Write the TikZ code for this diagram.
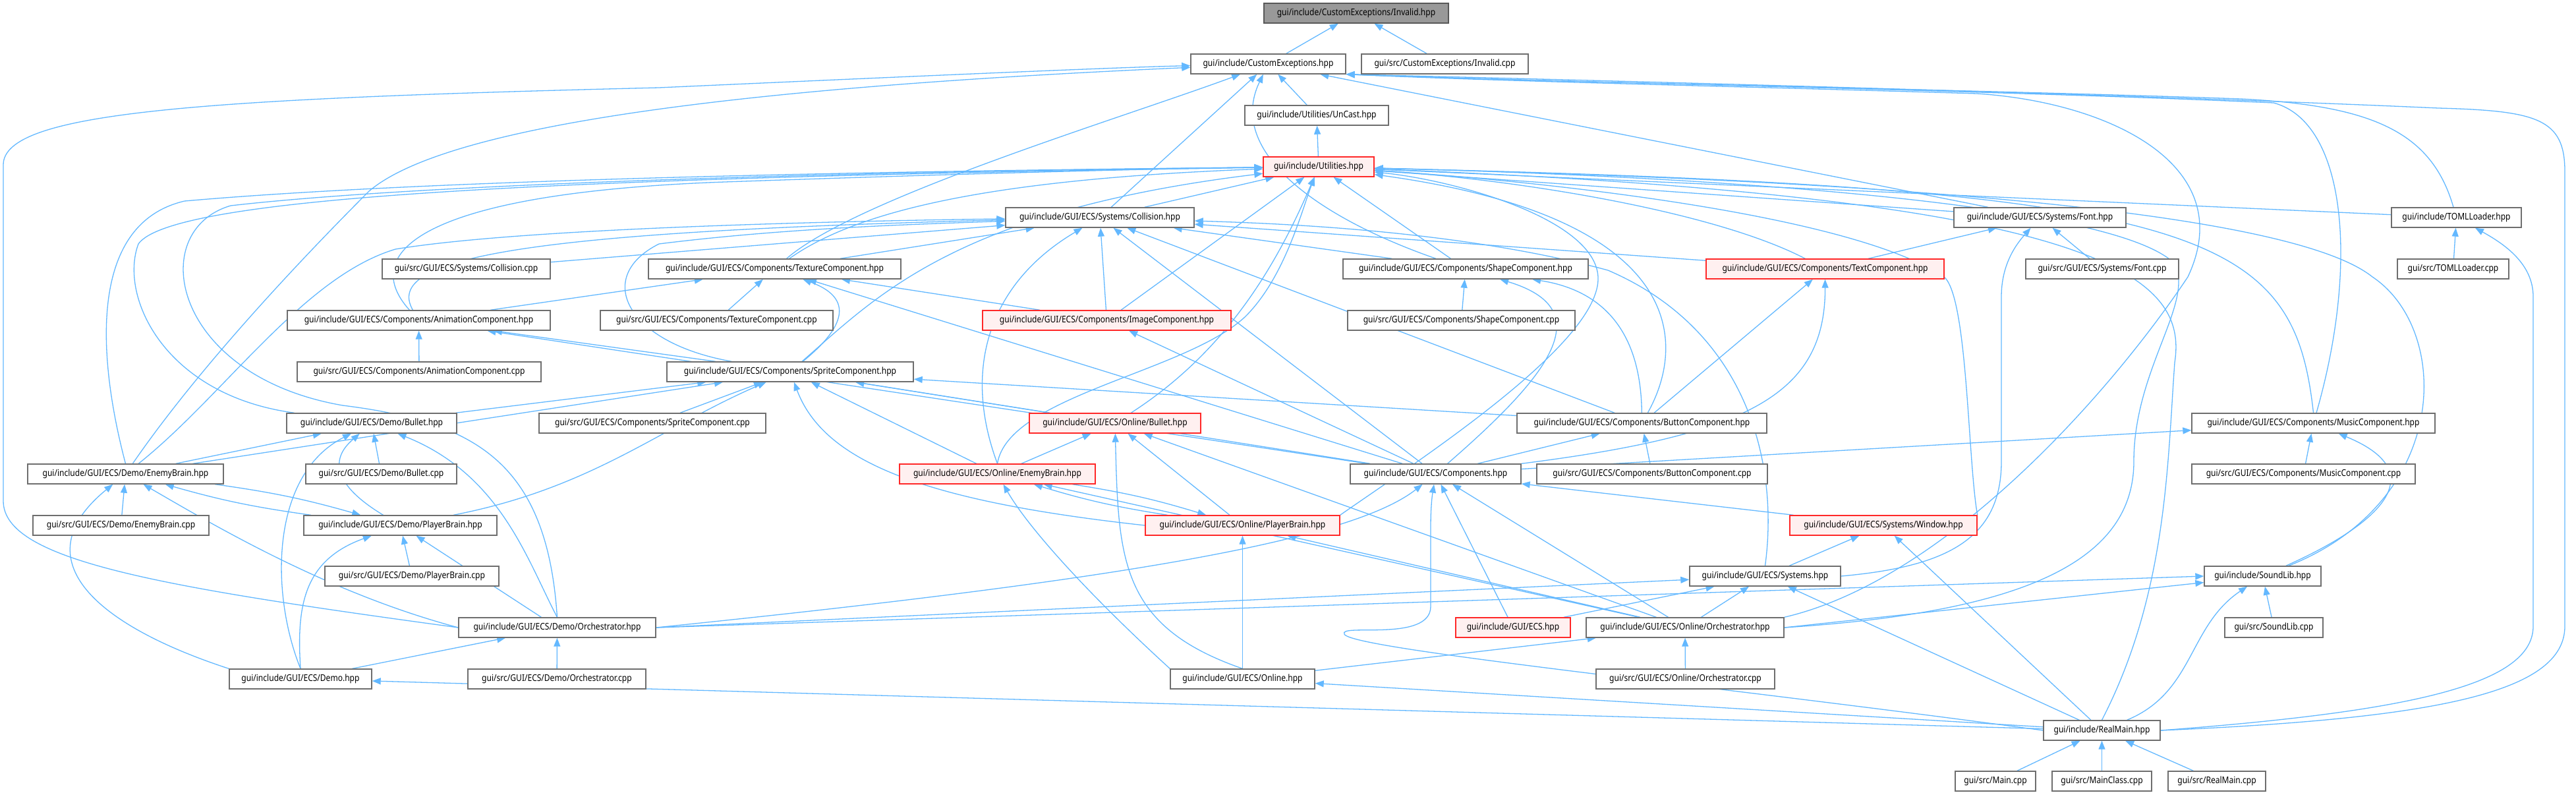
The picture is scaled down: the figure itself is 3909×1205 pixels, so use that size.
\documentclass[tikz,border=0pt]{standalone}
\usepackage{fontspec}
\setmainfont{Noto Sans}[FakeStretch=0.86]
\usetikzlibrary{arrows.meta}
\definecolor{edgec}{RGB}{99,184,255}
\definecolor{boxc}{RGB}{110,110,110}
\definecolor{redc}{RGB}{255,40,40}
\definecolor{pinkf}{RGB}{255,240,240}
\definecolor{rootf}{RGB}{153,153,153}
\pgfdeclarelayer{bg}
\pgfsetlayers{bg,main}
\newcommand\nd[6][wbox]{\node[nbox,#1,minimum width={(#4-#3)*1pt}] (#2) at ({(#3+#4)/2},#5) {#6};}
\begin{document}
\begin{tikzpicture}[x=1pt,y=-1pt,
 nbox/.style={rectangle,draw=boxc,line width=1.4pt,fill=white,minimum height=30pt,inner sep=0pt,font=\fontsize{14}{16}\selectfont,text=black},
 wbox/.style={},
 rbox/.style={draw=redc,fill=pinkf},
 gbox/.style={fill=rootf,draw=boxc!80!black},
 dep/.style={draw=edgec,line width=1.3pt,-{Triangle[length=13pt,width=10pt]}}]
\useasboundingbox (0,0) rectangle (3909,1205);
% ---------- nodes ----------
\nd[gbox]{inv}{1918}{2198}{20}{gui/include/CustomExceptions/Invalid.hpp}
\nd{cex}{1807}{2042}{97}{gui/include/CustomExceptions.hpp}
\nd{invcpp}{2066}{2319}{97}{gui/src/CustomExceptions/Invalid.cpp}
\nd{uncast}{1889}{2107}{175}{gui/include/Utilities/UnCast.hpp}
\nd[rbox]{util}{1917}{2085}{253}{gui/include/Utilities.hpp}
\nd{coll}{1526}{1812}{330}{gui/include/GUI/ECS/Systems/Collision.hpp}
\nd{font}{2965}{3226}{330}{gui/include/GUI/ECS/Systems/Font.hpp}
\nd{toml}{3629}{3826}{330}{gui/include/TOMLLoader.hpp}
\nd{texh}{984}{1367}{408}{gui/include/GUI/ECS/Components/TextureComponent.hpp}
\nd{collcpp}{580}{835}{408}{gui/src/GUI/ECS/Systems/Collision.cpp}
\nd{shape}{2038}{2410}{408}{gui/include/GUI/ECS/Components/ShapeComponent.hpp}
\nd[rbox]{text}{2589}{2950}{408}{gui/include/GUI/ECS/Components/TextComponent.hpp}
\nd{fontcpp}{3074}{3306}{408}{gui/src/GUI/ECS/Systems/Font.cpp}
\nd{tomlcpp}{3638}{3807}{408}{gui/src/TOMLLoader.cpp}
\nd{anim}{436}{835}{486}{gui/include/GUI/ECS/Components/AnimationComponent.hpp}
\nd{texcpp}{911}{1264}{486}{gui/src/GUI/ECS/Components/TextureComponent.cpp}
\nd[rbox]{image}{1491}{1868}{486}{gui/include/GUI/ECS/Components/ImageComponent.hpp}
\nd{shapecpp}{2045}{2390}{486}{gui/src/GUI/ECS/Components/ShapeComponent.cpp}
\nd{animcpp}{451}{821}{564}{gui/src/GUI/ECS/Components/AnimationComponent.cpp}
\nd{sprite}{1012}{1386}{564}{gui/include/GUI/ECS/Components/SpriteComponent.hpp}
\nd{dbullet}{435}{693}{642}{gui/include/GUI/ECS/Demo/Bullet.hpp}
\nd{spritecpp}{818}{1162}{642}{gui/src/GUI/ECS/Components/SpriteComponent.cpp}
\nd[rbox]{obullet}{1562}{1822}{642}{gui/include/GUI/ECS/Online/Bullet.hpp}
\nd{button}{2302}{2681}{642}{gui/include/GUI/ECS/Components/ButtonComponent.hpp}
\nd{music}{3326}{3695}{642}{gui/include/GUI/ECS/Components/MusicComponent.hpp}
\nd{denemy}{42}{339}{719}{gui/include/GUI/ECS/Demo/EnemyBrain.hpp}
\nd{dbulletcpp}{464}{693}{719}{gui/src/GUI/ECS/Demo/Bullet.cpp}
\nd[rbox]{oenemy}{1365}{1662}{719}{gui/include/GUI/ECS/Online/EnemyBrain.hpp}
\nd{comps}{2049}{2308}{719}{gui/include/GUI/ECS/Components.hpp}
\nd{buttoncpp}{2332}{2682}{719}{gui/src/GUI/ECS/Components/ButtonComponent.cpp}
\nd{musiccpp}{3326}{3665}{719}{gui/src/GUI/ECS/Components/MusicComponent.cpp}
\nd{denemycpp}{50}{317}{797}{gui/src/GUI/ECS/Demo/EnemyBrain.cpp}
\nd{dplayer}{461}{754}{797}{gui/include/GUI/ECS/Demo/PlayerBrain.hpp}
\nd[rbox]{oplayer}{1738}{2033}{797}{gui/include/GUI/ECS/Online/PlayerBrain.hpp}
\nd[rbox]{window}{2716}{3000}{797}{gui/include/GUI/ECS/Systems/Window.hpp}
\nd{dplayercpp}{493}{757}{874}{gui/src/GUI/ECS/Demo/PlayerBrain.cpp}
\nd{systems}{2564}{2793}{874}{gui/include/GUI/ECS/Systems.hpp}
\nd{sound}{3345}{3522}{874}{gui/include/SoundLib.hpp}
\nd{dorch}{696}{995}{952}{gui/include/GUI/ECS/Demo/Orchestrator.hpp}
\nd[rbox]{ecs}{2209}{2383}{952}{gui/include/GUI/ECS.hpp}
\nd{oorch}{2407}{2707}{952}{gui/include/GUI/ECS/Online/Orchestrator.hpp}
\nd{soundcpp}{3376}{3525}{952}{gui/src/SoundLib.cpp}
\nd{demo}{348}{564}{1030}{gui/include/GUI/ECS/Demo.hpp}
\nd{dorchcpp}{710}{980}{1030}{gui/src/GUI/ECS/Demo/Orchestrator.cpp}
\nd{online}{1776}{1995}{1030}{gui/include/GUI/ECS/Online.hpp}
\nd{oorchcpp}{2422}{2693}{1030}{gui/src/GUI/ECS/Online/Orchestrator.cpp}
\nd{realmain}{3101}{3278}{1108}{gui/include/RealMain.hpp}
\nd{maincpp}{2967}{3089}{1185}{gui/src/Main.cpp}
\nd{mainclass}{3114}{3265}{1185}{gui/src/MainClass.cpp}
\nd{realmaincpp}{3290}{3438}{1185}{gui/src/RealMain.cpp}
% ---------- edges ----------
\begin{pgfonlayer}{bg}
\draw[dep] (cex) -- (inv);
\draw[dep] (invcpp) -- (inv);
\draw[dep] (uncast) -- (cex);
\draw[dep] (util) -- (uncast);
% Collision
\draw[dep] (coll) -- (cex);
\draw[dep] (coll) -- (util);
\draw[dep] (collcpp) -- (coll);
% TextureComponent
\draw[dep] (texh) .. controls (1300,300) and (1700,180) .. (cex);
\draw[dep] (texh) .. controls (1300,320) and (1500,272) .. (util);
\draw[dep] (texh) -- (coll);
\draw[dep] (texcpp) -- (texh);
% ShapeComponent
\draw[dep] (shape) -- (util);
\draw[dep] (shape) -- (coll);
\draw[dep] (shape) .. controls (2000,330) and (1860,230) .. (cex);
\draw[dep] (shapecpp) -- (shape);
% TextComponent
\draw[dep] (text) .. controls (2600,320) and (2300,272) .. (util);
\draw[dep] (text) -- (coll);
\draw[dep] (text) -- (font);
% Font
\draw[dep] (font) -- (util);
\draw[dep] (font) -- (cex);
\draw[dep] (fontcpp) -- (font);
% TOMLLoader
\draw[dep] (toml) -- (util);
\draw[dep] (toml) .. controls (3690,200) and (3600,160) .. (3400,150) .. controls (3000,136) and (2400,126) .. (cex.south east);
\draw[dep] (tomlcpp) -- (toml);
% AnimationComponent
\draw[dep] (anim) -- (texh);
\draw[dep] (anim) .. controls (540,380) and (650,292) .. (1100,276) .. controls (1500,262) and (1800,255) .. (util);
\draw[dep] (anim) .. controls (580,390) and (800,352) .. (coll);
\draw[dep] (animcpp) -- (anim);
% ImageComponent
\draw[dep] (image) -- (texh);
\draw[dep] (image) -- (util);
\draw[dep] (image) -- (coll);
% SpriteComponent
\draw[dep] (sprite) .. controls (1290,490) and (1290,450) .. (texh);
\draw[dep] (sprite) -- (anim);
\draw[dep] (sprite) .. controls (1330,450) and (1450,320) .. (util);
\draw[dep] (sprite) .. controls (950,520) and (900,420) .. (1000,370) .. controls (1200,345) and (1400,340) .. (coll);
\draw[dep] (spritecpp) -- (sprite);
% Demo Bullet
\draw[dep] (dbullet) .. controls (250,600) and (180,450) .. (210,370) .. controls (260,300) and (800,270) .. (util);
\draw[dep] (dbullet) -- (sprite);
\draw[dep] (dbulletcpp) -- (dbullet);
% Online Bullet
\draw[dep] (obullet) -- (sprite);
\draw[dep] (obullet) .. controls (1850,540) and (1930,420) .. (util);
% Demo EnemyBrain
\draw[dep] (denemy.north) .. controls (150,550) and (130,340) .. (280,305) .. controls (700,268) and (1500,258) .. (util);
\draw[dep] (denemy) .. controls (300,560) and (450,400) .. (560,290) .. controls (700,170) and (1300,125) .. (cex);
\draw[dep] (denemy) .. controls (340,600) and (460,420) .. (600,378) .. controls (800,345) and (1300,335) .. (coll);
\draw[dep] (denemy) -- (sprite);
\draw[dep] (denemy) -- (dbullet);
\draw[dep] (denemy) to[bend left=4] (dplayer);
\draw[dep] (denemycpp) -- (denemy);
% Online EnemyBrain
\draw[dep] (oenemy) -- (obullet);
\draw[dep] (oenemy) -- (sprite);
\draw[dep] (oenemy.north) .. controls (1530,600) and (1800,565) .. (1890,480) .. controls (1950,420) and (1975,320) .. (util);
\draw[dep] (oenemy.north) .. controls (1460,560) and (1500,430) .. (coll);
\draw[dep] (oenemy) to[bend left=4] (oplayer);
% Online PlayerBrain
\draw[dep] (oplayer) to[bend left=4] (oenemy);
\draw[dep] (oplayer) -- (obullet);
\draw[dep] (oplayer.west) .. controls (1400,760) and (1250,700) .. (sprite);
\draw[dep] (oplayer.north east) .. controls (2150,700) and (2430,520) .. (2425,420) .. controls (2420,330) and (2200,272) .. (util);
% ButtonComponent
\draw[dep] (button) .. controls (2560,520) and (2560,330) .. (util);
\draw[dep] (button) .. controls (2490,500) and (2430,440) .. (shape);
\draw[dep] (button) -- (text);
\draw[dep] (button) -- (coll);
\draw[dep] (button) -- (sprite);
\draw[dep] (buttoncpp) -- (button);
% MusicComponent
\draw[dep] (music.north) .. controls (3480,350) and (3350,285) .. (util);
\draw[dep] (music) .. controls (3580,400) and (3560,185) .. (3450,156) .. controls (3000,136) and (2400,126) .. (cex.south east);
\draw[dep] (musiccpp) -- (music);
% Components
\draw[dep] (comps) -- (texh);
\draw[dep] (comps) -- (image);
\draw[dep] (comps) -- (sprite);
\draw[dep] (comps) .. controls (2350,570) and (2430,470) .. (shape);
\draw[dep] (comps.north east) .. controls (2650,660) and (2770,600) .. (text);
\draw[dep] (comps) -- (button);
\draw[dep] (comps) -- (music);
\draw[dep] (comps) -- (anim);
\draw[dep] (comps) -- (coll);
% Demo PlayerBrain
\draw[dep] (dplayer) to[bend left=4] (denemy);
\draw[dep] (dplayer) .. controls (480,720) and (520,680) .. (dbullet);
\draw[dep] (dplayer) .. controls (900,740) and (1000,650) .. (sprite);
\draw[dep] (dplayercpp) -- (dplayer);
% Window
\draw[dep] (window) -- (comps);
\draw[dep] (window.north east) .. controls (2986,700) and (2986,450) .. (2950,420) .. controls (2800,320) and (2300,272) .. (util);
% Systems
\draw[dep] (systems) -- (window);
\draw[dep] (systems.east) .. controls (2950,860) and (3037,820) .. (3037,700) -- (3037,450) .. controls (3037,400) and (3060,370) .. (font);
\draw[dep] (systems.north) .. controls (2700,700) and (2650,500) .. (2440,410) .. controls (2200,345) and (1900,338) .. (coll);
% SoundLib
\draw[dep] (sound) .. controls (3600,800) and (3700,720) .. (music);
\draw[dep] (sound) .. controls (3720,760) and (3720,500) .. (3600,420) .. controls (3450,300) and (2600,268) .. (util);
\draw[dep] (soundcpp) -- (sound);
% Demo Orchestrator
\draw[dep] (dorch.west) .. controls (240,890) and (5,850) .. (5,760) -- (5,250) .. controls (5,170) and (300,150) .. (1000,133) .. controls (1400,115) and (1700,102) .. (cex);
\draw[dep] (dorch.north) .. controls (830,700) and (720,640) .. (520,615) .. controls (260,570) and (220,350) .. (350,312) .. controls (700,272) and (1500,258) .. (util);
\draw[dep] (dorch.north) .. controls (800,850) and (760,720) .. (dbullet);
\draw[dep] (dorch.west) .. controls (500,900) and (330,800) .. (denemy);
\draw[dep] (dorch) -- (dplayer);
\draw[dep] (dorch.east) .. controls (1700,880) and (2050,820) .. (comps);
\draw[dep] (dorch.east) -- (systems);
\draw[dep] (dorch.east) -- (sound.west);
\draw[dep] (dorchcpp) -- (dorch);
% ECS
\draw[dep] (ecs) -- (comps);
\draw[dep] (ecs) -- (systems);
% Online Orchestrator
\draw[dep] (oorch) -- (obullet);
\draw[dep] (oorch) -- (oenemy);
\draw[dep] (oorch) -- (oplayer);
\draw[dep] (oorch) -- (comps);
\draw[dep] (oorch) -- (systems);
\draw[dep] (oorch.east) -- (sound);
\draw[dep] (oorch.east) .. controls (3050,930) and (3238,860) .. (3238,700) .. controls (3238,560) and (3330,460) .. (3300,400) .. controls (3200,300) and (2500,265) .. (util);
\draw[dep] (oorch.north east) .. controls (2950,880) and (3200,600) .. (3320,420) .. controls (3400,250) and (3200,155) .. (3000,142) .. controls (2600,130) and (2300,124) .. (cex.south east);
\draw[dep] (oorchcpp) -- (oorch);
% Demo
\draw[dep] (demo) -- (dorch);
\draw[dep] (demo.north) .. controls (410,900) and (410,720) .. (dbullet);
\draw[dep] (demo.north west) .. controls (150,950) and (30,850) .. (denemy);
\draw[dep] (demo.north) .. controls (450,920) and (460,850) .. (dplayer);
% Online
\draw[dep] (online) -- (oorch);
\draw[dep] (online) -- (oplayer);
\draw[dep] (online.north west) .. controls (1650,900) and (1560,800) .. (oenemy);
\draw[dep] (online.north) .. controls (1700,950) and (1697,850) .. (obullet);
% RealMain
\draw[dep] (realmain.east) .. controls (3700,1090) and (3892,1050) .. (3892,950) -- (3892,260) .. controls (3892,180) and (3850,168) .. (3700,164) .. controls (3300,146) and (2600,126) .. (cex.south east);
\draw[dep] (realmain.east) .. controls (3650,1080) and (3844,1040) .. (3844,950) -- (3844,450) .. controls (3844,400) and (3800,370) .. (toml);
\draw[dep] (realmain.north) .. controls (3289,900) and (3289,700) .. (3300,550) .. controls (3320,420) and (3200,300) .. (util);
\draw[dep] (realmain) .. controls (3330,1050) and (3320,950) .. (sound);
\draw[dep] (realmain) -- (systems);
\draw[dep] (realmain) -- (window);
\draw[dep] (realmain.west) .. controls (2600,1040) and (2050,985) .. (2040,962) .. controls (2030,945) and (2171,975) .. (2171,920) -- (2171,800) .. controls (2171,780) and (2172,760) .. (comps);
\draw[dep] (realmain) -- (demo);
\draw[dep] (realmain) -- (online);
\draw[dep] (maincpp) -- (realmain);
\draw[dep] (mainclass) -- (realmain);
\draw[dep] (realmaincpp) -- (realmain);
\end{pgfonlayer}
\end{tikzpicture}
\end{document}
